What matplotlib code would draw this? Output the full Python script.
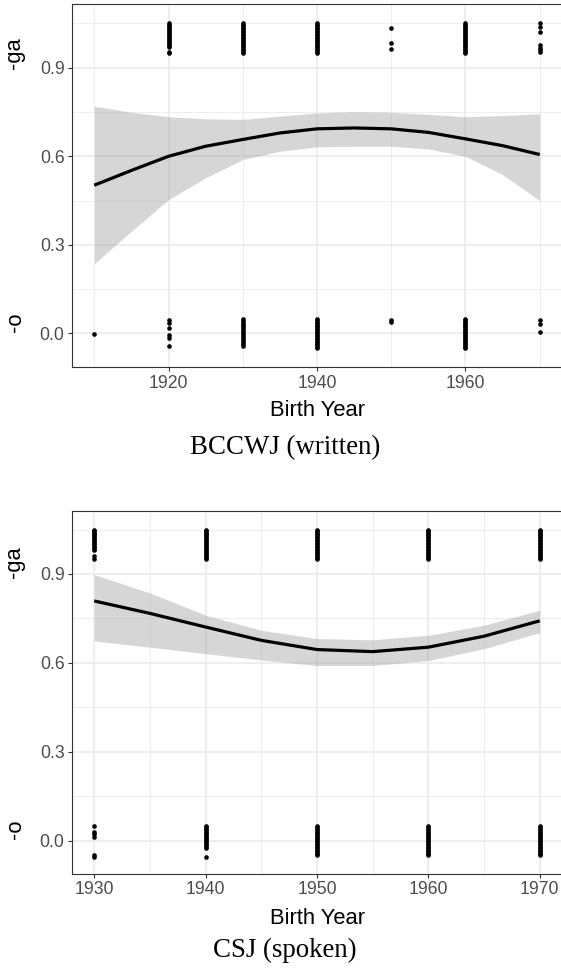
import matplotlib
matplotlib.use("Agg")
import matplotlib.pyplot as plt
from matplotlib.ticker import FixedLocator

plt.rcParams['font.family'] = ['Liberation Sans', 'DejaVu Sans']

# ---------------- data ----------------
SOLID_GA = [1.05, 1.045, 1.04, 1.035, 1.03, 1.025, 1.02, 1.015, 1.01, 1.005, 1.0,
            0.995, 0.99, 0.985, 0.98, 0.975, 0.97, 0.965, 0.96, 0.955, 0.95]
SOLID_O = [0.05, 0.045, 0.04, 0.035, 0.03, 0.025, 0.02, 0.015, 0.01, 0.005, 0.0,
           -0.005, -0.01, -0.015, -0.02, -0.025, -0.03, -0.035, -0.04, -0.045, -0.05]

# BCCWJ (written): observed responses (1 = -ga, 0 = -o), jittered vertically
bccwj_ga = {
    1920: [1.05, 1.045, 1.04, 1.035, 1.03, 1.025, 1.02, 1.015, 1.01, 1.005, 1.0,
           0.995, 0.99, 0.985, 0.98, 0.975, 0.97, 0.955, 0.95],
    1930: SOLID_GA,
    1940: SOLID_GA,
    1950: [1.036, 0.983, 0.962],
    1960: SOLID_GA,
    1970: [1.05, 1.038, 1.022, 0.976, 0.968, 0.96, 0.953],
}
bccwj_o = {
    1910: [-0.003],
    1920: [0.045, 0.036, 0.019, -0.006, -0.017, -0.043],
    1930: [0.05, 0.043, 0.036, 0.03, 0.024, 0.017, 0.01, 0.004, -0.003, -0.01,
           -0.016, -0.022, -0.029, -0.036, -0.042],
    1940: SOLID_O,
    1950: [0.045, 0.04],
    1960: SOLID_O,
    1970: [0.045, 0.032, 0.006],
}
bccwj_years = [1910, 1915, 1920, 1925, 1930, 1935, 1940, 1945, 1950, 1955, 1960, 1965, 1970]
bccwj_fit = [0.502, 0.552, 0.600, 0.634, 0.657, 0.679, 0.693, 0.696, 0.693, 0.681, 0.659, 0.636, 0.606]
bccwj_upper = [0.770, 0.749, 0.734, 0.727, 0.725, 0.736, 0.747, 0.751, 0.749, 0.742, 0.734, 0.738, 0.744]
bccwj_lower = [0.236, 0.346, 0.453, 0.527, 0.589, 0.617, 0.632, 0.634, 0.634, 0.625, 0.600, 0.538, 0.450]

# CSJ (spoken)
csj_ga = {
    1930: [1.05, 1.045, 1.04, 1.035, 1.03, 1.025, 1.02, 1.015, 1.01, 1.005, 1.0,
           0.995, 0.99, 0.985, 0.98, 0.962, 0.952],
    1940: SOLID_GA,
    1950: SOLID_GA,
    1960: SOLID_GA,
    1970: SOLID_GA,
}
csj_o = {
    1930: [0.05, 0.03, 0.021, 0.012, -0.05, -0.055],
    1940: [0.05, 0.045, 0.04, 0.035, 0.03, 0.025, 0.02, 0.015, 0.01, 0.005, 0.0,
           -0.005, -0.01, -0.015, -0.02, -0.025, -0.055],
    1950: SOLID_O,
    1960: SOLID_O,
    1970: SOLID_O,
}
csj_years = [1930, 1935, 1940, 1945, 1950, 1955, 1960, 1965, 1970]
csj_fit = [0.809, 0.767, 0.721, 0.676, 0.645, 0.638, 0.653, 0.690, 0.742]
csj_upper = [0.898, 0.836, 0.761, 0.710, 0.682, 0.678, 0.693, 0.727, 0.778]
csj_lower = [0.674, 0.653, 0.631, 0.610, 0.591, 0.591, 0.608, 0.648, 0.702]

y_ticks = [0.0, 0.3, 0.6, 0.9]
y_minor = [0.15, 0.45, 0.75, 1.05]
bccwj_xticks = [1920, 1940, 1960]
bccwj_xminor = [1910, 1930, 1950, 1970]
csj_xticks = [1930, 1940, 1950, 1960, 1970]
csj_xminor = [1935, 1945, 1955, 1965]

# ---------------- figure ----------------
W, H = 561, 975
fig = plt.figure(figsize=(W / 100, H / 100), dpi=100)

def add_ax(top, bottom, left=72, right=562):
    return fig.add_axes([left / W, 1 - bottom / H, (right - left) / W, (bottom - top) / H])

def style(ax, xlim, ylim, xt, xm):
    ax.set_xlim(*xlim)
    ax.set_ylim(*ylim)
    ax.xaxis.set_major_locator(FixedLocator(xt))
    ax.xaxis.set_minor_locator(FixedLocator(xm))
    ax.yaxis.set_major_locator(FixedLocator(y_ticks))
    ax.yaxis.set_minor_locator(FixedLocator(y_minor))
    ax.set_xticklabels([str(v) for v in xt])
    ax.set_yticklabels(['%.1f' % v for v in y_ticks])
    ax.set_axisbelow(True)
    ax.grid(which='major', color='#EBEBEB', linewidth=1.2)
    ax.grid(which='minor', color='#EBEBEB', linewidth=0.6)
    ax.tick_params(which='major', direction='out', length=3.2, width=0.8,
                   color='#333333', labelcolor='#4D4D4D', labelsize=12.7, pad=2.2)
    ax.tick_params(which='minor', length=0)
    for side in ['left', 'top', 'bottom']:
        ax.spines[side].set_color('#333333')
        ax.spines[side].set_linewidth(0.8)
    ax.spines['right'].set_visible(False)
    ax.set_facecolor('white')

def draw(ax, ga, o, yrs, fit, lo, hi):
    for yr, vals in o.items():
        ax.scatter([yr] * len(vals), vals, s=11, color='black', linewidths=0, zorder=3)
    for yr, vals in ga.items():
        ax.scatter([yr] * len(vals), vals, s=11, color='black', linewidths=0, zorder=3)
    ax.fill_between(yrs, lo, hi, color='#999999', alpha=0.4, linewidth=0, zorder=4)
    ax.plot(yrs, fit, color='black', linewidth=2.3, zorder=5, solid_capstyle='butt')

ax1 = add_ax(4, 367)
style(ax1, (1907, 1973), (-0.114, 1.116), bccwj_xticks, bccwj_xminor)
draw(ax1, bccwj_ga, bccwj_o, bccwj_years, bccwj_fit, bccwj_lower, bccwj_upper)

ax2 = add_ax(511, 874)
style(ax2, (1928, 1972), (-0.1125, 1.1126), csj_xticks, csj_xminor)
draw(ax2, csj_ga, csj_o, csj_years, csj_fit, csj_lower, csj_upper)

def ftext(x, y, s, **kw):
    fig.text(x / W, 1 - y / H, s, ha='center', va='center', **kw)

for (yb, yga, yo) in [(410, 53, 322.5), (918, 561.7, 829)]:
    ftext(317, yb, 'Birth Year', fontsize=15.8, color='black')
    ftext(15, yga, '-ga', fontsize=15.8, rotation=90, color='black')
    ftext(15, yo, '-o', fontsize=15.8, rotation=90, color='black')

ftext(285, 448, 'BCCWJ (written)', fontsize=19.4, family=['Liberation Serif', 'DejaVu Serif'])
ftext(285, 950, 'CSJ (spoken)', fontsize=19.4, family=['Liberation Serif', 'DejaVu Serif'])

fig.savefig('out.png', dpi=100, facecolor='white')
